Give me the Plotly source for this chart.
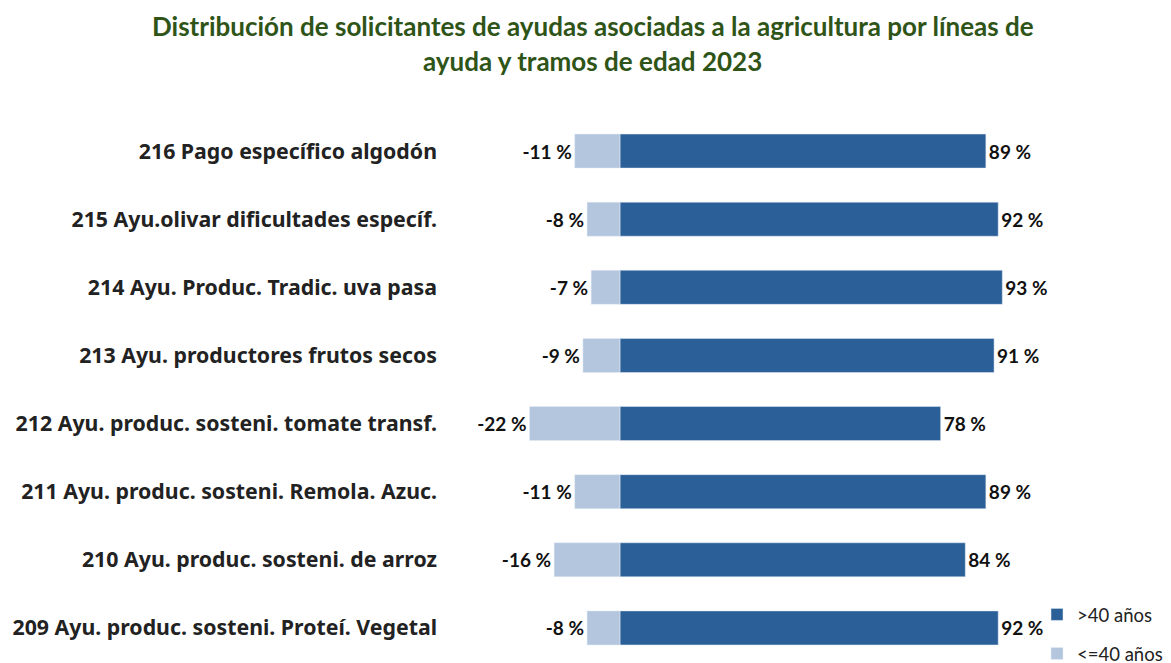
import plotly.graph_objects as go

categories = [
    "209 Ayu. produc. sosteni. Proteí. Vegetal",
    "210 Ayu. produc. sosteni. de arroz",
    "211 Ayu. produc. sosteni. Remola. Azuc.",
    "212 Ayu. produc. sosteni. tomate transf.",
    "213 Ayu. productores frutos secos",
    "214 Ayu. Produc. Tradic. uva pasa",
    "215 Ayu.olivar dificultades específ.",
    "216 Pago específico algodón",
]
over40 = [92, 84, 89, 78, 91, 93, 92, 89]
under40 = [-8, -16, -11, -22, -9, -7, -8, -11]
title_lines = [
    "Distribución de solicitantes de ayudas asociadas a la agricultura por líneas de",
    "ayuda y tramos de edad 2023",
]

label_font = dict(family="Lato", size=19, color="#111111", weight="bold")

L, R, T, B = 452, 129, 109, 9
PW = 1171 - L - R
PH = 663 - T - B

fig = go.Figure()
fig.add_trace(go.Bar(
    y=categories, x=over40, orientation="h", name=">40 años",
    marker_color="#2B5F98", text=[f"{v} %" for v in over40],
    textposition="outside", textfont=label_font, cliponaxis=False,
    constraintext="none", legendgroup="a",
))
fig.add_trace(go.Bar(
    y=categories, x=under40, orientation="h", name="<=40 años",
    marker_color="#B4C6DD", text=[f"{v} %" for v in under40],
    textposition="outside", textfont=label_font, cliponaxis=False,
    constraintext="none", legendgroup="b",
))

for line, yc in zip(title_lines, [18.5, 52.5]):
    fig.add_annotation(
        text=f"<b>{line}</b>", xref="paper", yref="paper",
        x=(584.5 - L) / PW, y=1 + (T - yc) / PH,
        xanchor="center", yanchor="middle", showarrow=False,
        font=dict(family="Lato", size=26, color="#2F5418"),
    )

fig.update_layout(
    width=1171, height=663,
    barmode="relative", bargap=0.5,
    plot_bgcolor="white", paper_bgcolor="white",
    margin=dict(l=L, r=R, t=T, b=B, autoexpand=False),
    xaxis=dict(range=[-38.9, 104.6], visible=False, fixedrange=True),
    yaxis=dict(
        showgrid=False, zeroline=False, showline=False, ticks="",
        tickfont=dict(family="Noto Sans", size=21.3, color="#222222", weight="bold"),
        ticklabelstandoff=22, automargin=False,
    ),
    legend=dict(
        x=0.978, xanchor="left", y=-0.02, yanchor="bottom",
        font=dict(family="Lato", size=18.5, color="#222222"),
        traceorder="grouped", tracegroupgap=12,
        itemwidth=30, bgcolor="rgba(0,0,0,0)",
    ),
)
fig.write_html("out.html")
